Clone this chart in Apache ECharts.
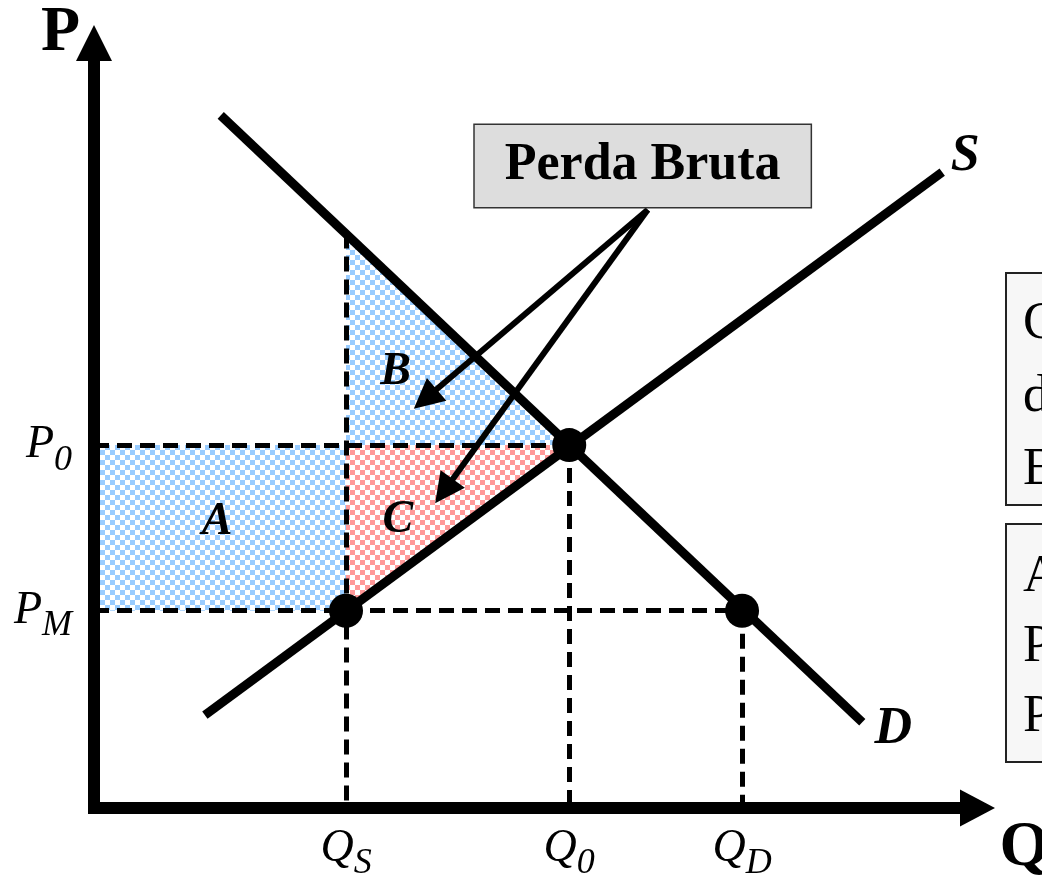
<!DOCTYPE html>
<html><head><meta charset="utf-8">
<script src="https://cdn.jsdelivr.net/npm/echarts@6/dist/echarts.min.js"></script>
<style>html,body{margin:0;padding:0;background:#fff}#c{width:1042px;height:875px}</style>
</head><body><div id="c"></div>
<script>
// ---- data (abstract quantity / price units) ----
const qTickValues = [35, 66, 90];
const qTickMain = ['Q', 'Q', 'Q'];
const qTickSub = ['S', '0', 'D'];
const pTickValues = [27.4, 50.4];
const pTickMain = ['P', 'P'];
const pTickSub = ['M', '0'];
const QS = 35, Q0 = 66, QD = 90, P0 = 50.4, PM = 27.4;
const demandAtQS = 79.8;
const demandLine = [[17.6, 96.2], [106.7, 11.9]];
const supplyLine = [[15.4, 12.9], [117.8, 88.3]];
const markedPoints = [[QS, PM], [Q0, P0], [QD, PM]];
const areaA = [[0, PM], [QS, PM], [QS, P0], [0, P0]];
const areaB = [[QS, P0], [QS, demandAtQS], [Q0, P0]];
const areaC = [[QS, P0], [Q0, P0], [QS, PM]];
const dashedSegments = [
  [[QS, demandAtQS], [QS, 0]],
  [[0, P0], [Q0, P0]],
  [[0, PM], [QD, PM]],
  [[Q0, P0], [Q0, 0]],
  [[QD, PM], [QD, 0]]
];
const areaLabels = [['A', 17.1, 39.7], ['B', 41.9, 60.6], ['C', 42.2, 40.0]];
const curveLabels = [['S', 121.0, 90.5], ['D', 111.0, 10.9]];
const calloutText = 'Perda Bruta';
const calloutAt = [76.2, 89.17];
const calloutArrows = [[[76.9, 83.1], [46.0, 56.8]], [[76.9, 83.1], [48.6, 44.0]]];
const box1Lines = ['Consumidores', 'de mercado', 'Excedente'];
const box2Lines = ['A − C', 'Produtores', 'Perdem'];

const SERIF = '"Liberation Serif", "Times New Roman", serif';

function checker(color) {
  const c = document.createElement('canvas');
  c.width = 10; c.height = 10;
  const g = c.getContext('2d');
  g.fillStyle = '#ffffff'; g.fillRect(0, 0, 10, 10);
  g.fillStyle = color;
  g.fillRect(0, 0, 5, 5); g.fillRect(5, 5, 5, 5);
  return { image: c, repeat: 'repeat' };
}
const blueFill = checker('#99ccff');
const redFill = checker('#ff9999');
const areas = [{ pts: areaA, fill: blueFill }, { pts: areaB, fill: blueFill }, { pts: areaC, fill: redFill }];

const subRich = {
  m: { fontFamily: SERIF, fontStyle: 'italic', fontSize: 46, color: '#000' },
  s: { fontFamily: SERIF, fontStyle: 'italic', fontSize: 36, color: '#000', padding: [30, 0, 0, 0] }
};

const chart = echarts.init(document.getElementById('c'), null, { renderer: 'canvas' });
chart.setOption({
  animation: false,
  backgroundColor: '#fff',
  grid: { left: 94, right: 64.5, top: 43, bottom: 67, containLabel: false, outerBoundsMode: 'none' },
  xAxis: {
    type: 'value', min: 0, max: 122.7, z: 10,
    name: 'Q', nameLocation: 'end', nameGap: 22,
    nameTextStyle: { fontFamily: SERIF, fontWeight: 'bold', fontSize: 64, color: '#000', align: 'left', verticalAlign: 'top', padding: [8, 0, 0, 0] },
    axisLine: { show: true, symbol: ['none', 'triangle'], symbolSize: [37, 35], lineStyle: { color: '#000', width: 12, cap: 'square' } },
    axisTick: { show: false },
    splitLine: { show: false },
    axisLabel: {
      show: true, margin: 8, customValues: qTickValues,
      formatter: function (v) { const i = qTickValues.indexOf(v); return i < 0 ? '' : '{m|' + qTickMain[i] + '}{s|' + qTickSub[i] + '}'; },
      rich: subRich
    }
  },
  yAxis: {
    type: 'value', min: 0, max: 106.25, z: 10,
    name: 'P', nameLocation: 'end', nameGap: 10,
    nameTextStyle: { fontFamily: SERIF, fontWeight: 'bold', fontSize: 64, color: '#000', align: 'right', verticalAlign: 'middle', padding: [0, 14, 0, 0] },
    axisLine: { show: true, symbol: ['none', 'triangle'], symbolSize: [36, 36], lineStyle: { color: '#000', width: 12, cap: 'square' } },
    axisTick: { show: false },
    splitLine: { show: false },
    axisLabel: {
      show: true, margin: 22, customValues: pTickValues,
      formatter: function (v) { const i = pTickValues.indexOf(v); return i < 0 ? '' : '{m|' + pTickMain[i] + '}{s|' + pTickSub[i] + '}'; },
      rich: subRich
    }
  },
  series: [
    {
      type: 'custom', z: 1, silent: true, clip: false,
      data: areas.map((a, i) => i),
      renderItem: function (params, api) {
        const a = areas[params.dataIndex];
        return { type: 'polygon', shape: { points: a.pts.map(p => api.coord(p)) }, style: { fill: a.fill, stroke: null } };
      }
    },
    {
      type: 'lines', coordinateSystem: 'cartesian2d', z: 2, silent: true,
      data: dashedSegments.map(s => ({ coords: s })),
      lineStyle: { color: '#000', width: 5, type: [15, 8], opacity: 1 }
    },
    {
      type: 'line', z: 3, silent: true, symbol: 'none', data: demandLine,
      lineStyle: { color: '#000', width: 9 }
    },
    {
      type: 'line', z: 3, silent: true, symbol: 'none', data: supplyLine,
      lineStyle: { color: '#000', width: 9 }
    },
    {
      type: 'lines', coordinateSystem: 'cartesian2d', z: 4, silent: true,
      data: calloutArrows.map(s => ({ coords: s })),
      symbol: ['none', 'triangle'], symbolSize: [1, 30],
      lineStyle: { color: '#000', width: 6, opacity: 1 }
    },
    {
      type: 'scatter', z: 5, silent: true, symbol: 'circle', symbolSize: 34,
      itemStyle: { color: '#000', opacity: 1 }, data: markedPoints
    },
    {
      type: 'scatter', z: 6, silent: true, symbolSize: 0, clip: false,
      itemStyle: { opacity: 1 },
      data: areaLabels.map(l => ({ name: l[0], value: [l[1], l[2]] })),
      label: { show: true, position: 'inside', formatter: '{b}', fontFamily: SERIF, fontStyle: 'italic', fontWeight: 'bold', fontSize: 46, color: '#000', opacity: 1 }
    },
    {
      type: 'scatter', z: 6, silent: true, symbolSize: 0, clip: false,
      itemStyle: { opacity: 1 },
      data: curveLabels.map(l => ({ name: l[0], value: [l[1], l[2]] })),
      label: { show: true, position: 'inside', formatter: '{b}', fontFamily: SERIF, fontStyle: 'italic', fontWeight: 'bold', fontSize: 52, color: '#000', opacity: 1 }
    },
    {
      type: 'scatter', z: 7, silent: true, symbolSize: 0, clip: false,
      itemStyle: { opacity: 1 },
      data: [{ name: calloutText, value: calloutAt }],
      label: {
        show: true, position: 'inside', formatter: '{b}', fontFamily: SERIF, fontWeight: 'bold', fontSize: 52, lineHeight: 54, color: '#000', opacity: 1,
        backgroundColor: '#dddddd', borderColor: '#333', borderWidth: 1.5, padding: [14, 30]
      }
    }
  ],
  graphic: [
    { type: 'rect', shape: { x: 1006, y: 273, width: 120, height: 232 }, style: { fill: '#f7f7f7', stroke: '#222', lineWidth: 2 } },
    { type: 'text', x: 1023, y: 288, style: { text: box1Lines.join('\n'), font: '52px ' + SERIF, lineHeight: 73, fill: '#000' } },
    { type: 'rect', shape: { x: 1006, y: 524, width: 120, height: 238 }, style: { fill: '#f7f7f7', stroke: '#222', lineWidth: 2 } },
    { type: 'text', x: 1023, y: 542, style: { text: box2Lines.join('\n'), font: '52px ' + SERIF, lineHeight: 70, fill: '#000' } }
  ]
});
</script></body></html>
